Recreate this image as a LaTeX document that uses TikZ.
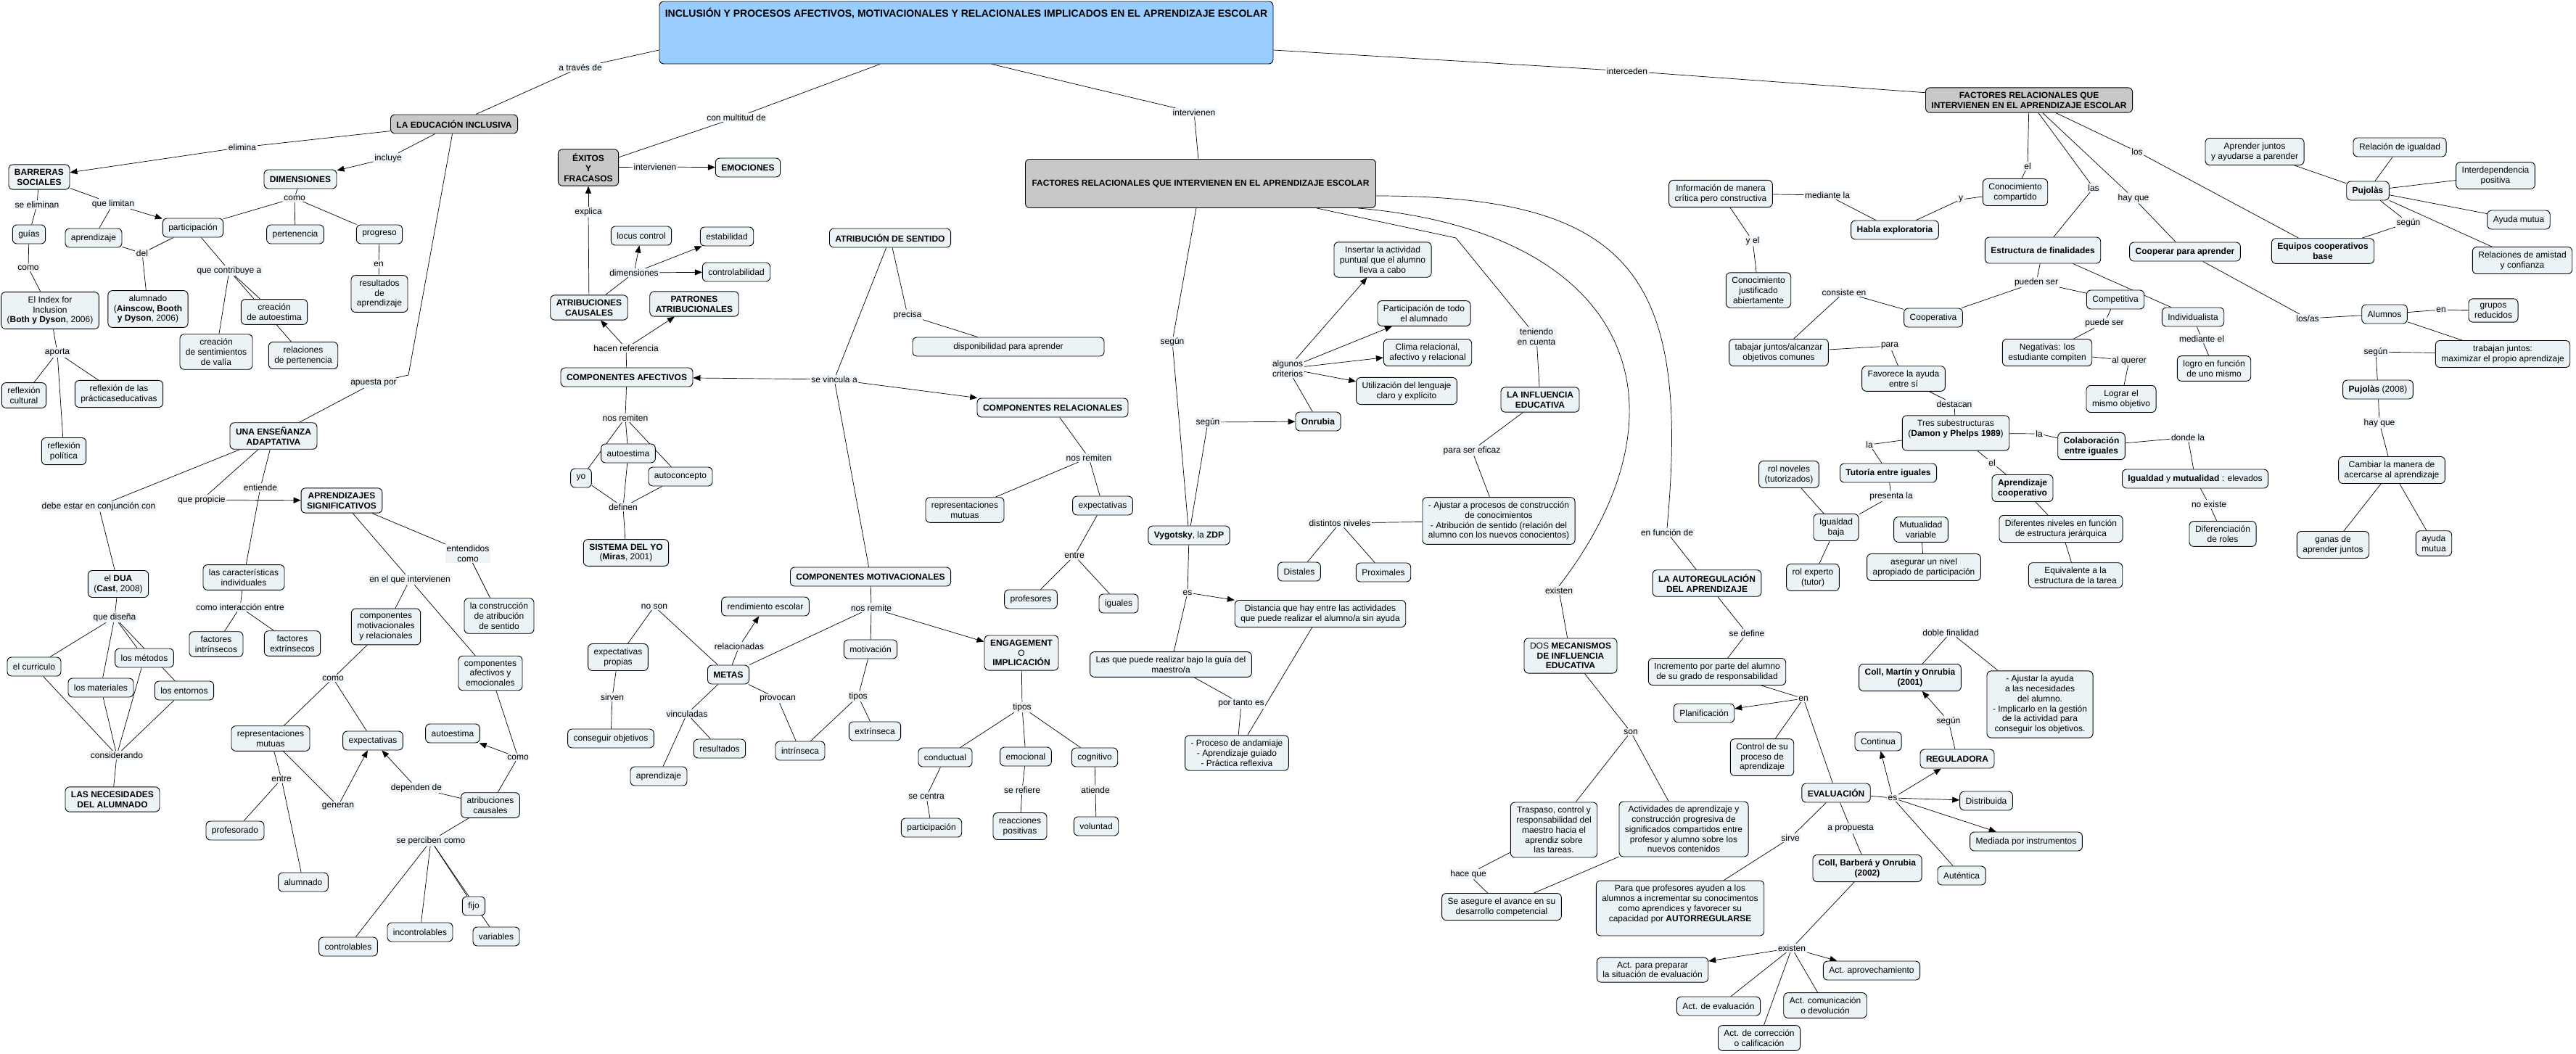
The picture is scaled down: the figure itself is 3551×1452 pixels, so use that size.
\documentclass[tikz,border=0pt]{standalone}
\usepackage{fontspec}
\setmainfont{Liberation Sans}
\usetikzlibrary{arrows.meta,backgrounds}
\definecolor{nodefill}{RGB}{236,243,246}
\definecolor{labfill}{RGB}{238,244,247}
\definecolor{grayfill}{RGB}{200,200,200}
\definecolor{mainfill}{RGB}{153,204,255}
\begin{document}
\begin{tikzpicture}[x=1pt,y=-1pt,font=\fontsize{12}{13.8}\selectfont,
 cn/.style={draw, rounded corners=6pt, fill=nodefill, align=center, inner xsep=8pt, inner ysep=6pt, minimum height=26pt, line width=0.9pt},
 gn/.style={cn, fill=grayfill},
 lb/.style={fill=labfill, inner sep=1.5pt, align=center},
 ed/.style={line width=0.7pt},
 ar/.style={ed, -{Triangle[length=10pt,width=8pt]}}]
\useasboundingbox (0,0) rectangle (3551,1452);
% ---------- main
\node[cn, minimum width=846pt, minimum height=86pt, fill=mainfill] (main) at (1332,45) {};
\node[font=\fontsize{14}{16}\selectfont\bfseries] (maintxt) at (1332,18) {INCLUSIÓN Y PROCESOS AFECTIVOS, MOTIVACIONALES Y RELACIONALES IMPLICADOS EN EL APRENDIZAJE ESCOLAR};
% ---------- left cluster
\node[gn] (educ) at (626,171) {\textbf{LA EDUCACIÓN INCLUSIVA}};
\node[cn] (barreras) at (54,244) {\textbf{BARRERAS}\\\textbf{SOCIALES}};
\node[cn] (dimensiones) at (414,247) {\textbf{DIMENSIONES}};
\node[cn] (particip) at (266,314) {participación};
\node[cn] (guias) at (40,323) {guías};
\node[cn] (aprend1) at (129,328) {aprendizaje};
\node[cn] (pertenencia) at (407,323) {pertenencia};
\node[cn] (progreso) at (523,323) {progreso};
\node[cn] (resultados1) at (523,405) {resultados\\de\\aprendizaje};
\node[cn] (index) at (69,428) {El Index for\\Inclusion\\(\textbf{Both y Dyson}, 2006)};
\node[cn] (alumnado1) at (204,426) {alumnado\\(\textbf{Ainscow, Booth}\\\textbf{y Dyson}, 2006)};
\node[cn] (creaauto) at (378,430) {creación\\de autoestima};
\node[cn] (creavalia) at (298,485) {creación\\de sentimientos\\de valía};
\node[cn] (relperten) at (418,490) {relaciones\\de pertenencia};
\node[cn] (reflcult) at (33,545) {reflexión\\cultural};
\node[cn] (reflprac) at (164,543) {reflexión de las\\prácticaseducativas};
\node[cn] (reflpol) at (88,622) {reflexión\\política};
\node[cn] (ensenanza) at (377,601) {\textbf{UNA ENSEÑANZA}\\\textbf{ADAPTATIVA}};
\node[cn] (aprsig) at (471,690) {\textbf{APRENDIZAJES}\\\textbf{SIGNIFICATIVOS}};
\node[cn] (dua) at (163,805) {el \textbf{DUA}\\(\textbf{Cast}, 2008)};
\node[cn] (caract) at (336,796) {las características\\individuales};
\node[cn] (construc) at (688,849) {la construcción\\de atribución\\de sentido};
\node[cn] (compmotrel) at (532,864) {componentes\\motivacionales\\y relacionales};
\node[cn] (factint) at (298,888) {factores\\intrínsecos};
\node[cn] (factext) at (403,887) {factores\\extrínsecos};
\node[cn] (metodos) at (199,907) {los métodos};
\node[cn] (curriculo) at (47,919) {el curriculo};
\node[cn] (materiales) at (139,948) {los materiales};
\node[cn] (entornos) at (254,952) {los entornos};
\node[cn] (compafem) at (676,928) {componentes\\afectivos y\\emocionales};
\node[cn] (necesidades) at (155,1102) {\textbf{LAS NECESIDADES}\\\textbf{DEL ALUMNADO}};
\node[cn] (repmut1) at (373,1018) {representaciones\\mutuas};
\node[cn] (expect1) at (514,1021) {expectativas};
\node[cn] (autoest2) at (624,1011) {autoestima};
\node[cn] (atrcaus) at (676,1110) {atribuciones\\causales};
\node[cn] (profesorado) at (324,1145) {profesorado};
\node[cn] (alumnado2) at (418,1216) {alumnado};
\node[cn] (fijo) at (653,1249) {fijo};
\node[cn] (incontrol) at (579,1285) {incontrolables};
\node[cn] (variables) at (684,1291) {variables};
\node[cn] (controlables) at (480,1305) {controlables};
% ---------- middle-left
\node[gn] (exitos) at (811,231) {\textbf{ÉXITOS}\\\textbf{Y}\\\textbf{FRACASOS}};
\node[cn] (emociones) at (1031,231) {\textbf{EMOCIONES}};
\node[cn] (locus) at (884,325) {locus control};
\node[cn] (estabilidad) at (1002,326) {estabilidad};
\node[cn] (controlab) at (1015,375) {controlabilidad};
\node[cn] (atribcaus) at (812,424) {\textbf{ATRIBUCIONES}\\\textbf{CAUSALES}};
\node[cn] (patrones) at (957,419) {\textbf{PATRONES}\\\textbf{ATRIBUCIONALES}};
\node[cn] (compafec) at (864,520) {\textbf{COMPONENTES AFECTIVOS}};
\node[cn] (autoest1) at (866,625) {autoestima};
\node[cn] (yo) at (801,659) {yo};
\node[cn] (autoconc) at (938,657) {autoconcepto};
\node[cn] (sistyo) at (863,762) {\textbf{SISTEMA DEL YO}\\(\textbf{Miras}, 2001)};
\node[cn] (expprop) at (852,906) {expectativas\\propias};
\node[cn] (consobj) at (842,1018) {conseguir objetivos};
\node[cn] (aprend2) at (908,1070) {aprendizaje};
\node[cn] (metas) at (1004,930) {\textbf{METAS}};
\node[cn] (rendesc) at (1055,836) {rendimiento escolar};
\node[cn] (resultados2) at (992,1032) {resultados};
\node[cn] (intrins) at (1103,1035) {intrínseca};
\node[cn] (extrins) at (1206,1008) {extrínseca};
\node[cn] (motivacion) at (1200,895) {motivación};
\node[cn] (compmot) at (1200,795) {\textbf{COMPONENTES MOTIVACIONALES}};
\node[cn] (atrsent) at (1227,328) {\textbf{ATRIBUCIÓN DE SENTIDO}};
\node[cn, minimum width=264pt] (dispon) at (1390,478) {disponibilidad para aprender};
\node[cn] (comprel) at (1451,562) {\textbf{COMPONENTES RELACIONALES}};
\node[cn] (repmut2) at (1330,703) {representaciones\\mutuas};
\node[cn] (expect2) at (1520,697) {expectativas};
\node[cn] (profesores) at (1421,826) {profesores};
\node[cn] (iguales) at (1542,832) {iguales};
\node[cn] (engage) at (1408,900) {\textbf{ENGAGEMENT}\\O\\\textbf{IMPLICACIÓN}};
\node[cn] (conductual) at (1303,1044) {conductual};
\node[cn] (emocional) at (1414,1043) {emocional};
\node[cn] (cognitivo) at (1509,1044) {cognitivo};
\node[cn] (particip2) at (1284,1141) {participación};
\node[cn] (reacciones) at (1406,1139) {reacciones\\positivas};
\node[cn] (voluntad) at (1511,1139) {voluntad};
% ---------- middle
\node[gn, minimum width=483pt, minimum height=67pt] (factbig) at (1655,253) {\textbf{FACTORES RELACIONALES QUE INTERVIENEN EN EL APRENDIZAJE ESCOLAR}};
\node[cn] (vygotsky) at (1639,738) {\textbf{Vygotsky}, la \textbf{ZDP}};
\node[cn] (lasque) at (1614,916) {Las que puede realizar bajo la guía del\\maestro/a};
\node[cn] (distancia) at (1820,846) {Distancia que hay entre las actividades\\que puede realizar el alumno/a sin ayuda};
\node[cn] (andamiaje) at (1705,1038) {- Proceso de andamiaje\\- Aprendizaje guiado\\- Práctica reflexiva};
\node[cn] (insertar) at (1906,358) {Insertar la actividad\\puntual que el alumno\\lleva a cabo};
\node[cn] (partodo) at (1963,432) {Participación de todo\\el alumnado};
\node[cn] (clima) at (1968,486) {Clima relacional,\\afectivo y relacional};
\node[cn] (utiliz) at (1939,539) {Utilización del lenguaje\\claro y explícito};
\node[cn] (onrubia) at (1817,581) {\textbf{Onrubia}};
\node[cn] (influencia) at (2123,551) {\textbf{LA INFLUENCIA}\\\textbf{EDUCATIVA}};
\node[cn] (ajustar) at (2066,718) {- Ajustar a procesos de construcción\\de conocimientos\\- Atribución de sentido (relación del\\alumno con los nuevos conocientos)};
\node[cn] (distales) at (1791,788) {Distales};
\node[cn] (proximales) at (1907,789) {Proximales};
\node[cn] (autoreg) at (2353,804) {\textbf{LA AUTOREGULACIÓN}\\\textbf{DEL APRENDIZAJE}};
\node[cn] (mecanismos) at (2165,904) {DOS \textbf{MECANISMOS}\\\textbf{DE INFLUENCIA}\\\textbf{EDUCATIVA}};
\node[cn] (incremento) at (2367,926) {Incremento por parte del alumno\\de su grado de responsabilidad};
\node[cn] (planif) at (2349,983) {Planificación};
\node[cn] (control) at (2429,1044) {Control de su\\proceso de\\aprendizaje};
\node[cn] (evaluacion) at (2531,1093) {\textbf{EVALUACIÓN}};
\node[cn] (continua) at (2589,1022) {Continua};
\node[cn] (traspaso) at (2142,1144) {Traspaso, control y\\responsabilidad del\\maestro hacia el\\aprendiz sobre\\las tareas.};
\node[cn] (activ) at (2321,1143) {Actividades de aprendizaje y\\construcción progresiva de\\significados compartidos entre\\profesor y alumno sobre los\\nuevos contenidos};
\node[cn] (asegure) at (2070,1250) {Se asegure el avance en su\\desarrollo competencial};
\node[cn, minimum width=231pt] (paraque) at (2316,1252) {Para que profesores ayuden a los\\alumnos a incrementar su conocimentos\\como aprendices y favorecer su\\capacidad por \textbf{AUTORREGULARSE}\\\mbox{}};
\node[cn] (collbarb) at (2574,1197) {\textbf{Coll, Barberá y Onrubia}\\\textbf{(2002)}};
\node[cn] (actprep) at (2278,1337) {Act. para preparar\\la situación de evaluación};
\node[cn] (actaprov) at (2580,1338) {Act. aprovechamiento};
\node[cn] (acteval) at (2369,1387) {Act. de evaluación};
\node[cn] (actcom) at (2516,1386) {Act. comunicación\\o devolución};
\node[cn] (actcorr) at (2425,1431) {Act. de corrección\\o calificación};
\node[cn] (reguladora) at (2698,1046) {\textbf{REGULADORA}};
\node[cn] (distribuida) at (2738,1104) {Distribuida};
\node[cn] (mediada) at (2793,1160) {Mediada por instrumentos};
\node[cn] (autentica) at (2704,1207) {Auténtica};
\node[cn] (collmartin) at (2633,934) {\textbf{Coll, Martín y Onrubia}\\\textbf{(2001)}};
\node[cn] (ajustayuda) at (2812,971) {- Ajustar la ayuda\\a las necesidades\\del alumno.\\- Implicarlo en la gestión\\de la actividad para\\conseguir los objetivos.};
% ---------- right cluster
\node[gn] (factright) at (2797,138) {\textbf{FACTORES RELACIONALES QUE}\\\textbf{INTERVIENEN EN EL APRENDIZAJE ESCOLAR}};
\node[cn] (info) at (2372,267) {Información de manera\\crítica pero constructiva};
\node[cn] (habla) at (2612,317) {\textbf{Habla exploratoria}};
\node[cn] (conjust) at (2424,400) {Conocimiento\\justificado\\abiertamente};
\node[cn] (concomp) at (2778,265) {Conocimiento\\compartido};
\node[cn, minimum height=36pt] (estructura) at (2816,345) {\textbf{Estructura de finalidades}};
\node[cn] (cooperar) at (3012,347) {\textbf{Cooperar para aprender}};
\node[cn] (equipos) at (3202,346) {\textbf{Equipos cooperativos}\\\textbf{base}};
\node[cn] (aprjuntos) at (3108,209) {Aprender juntos\\y ayudarse a parender};
\node[cn] (relig) at (3308,203) {Relación de igualdad};
\node[cn] (pujolas) at (3264,263) {\textbf{Pujolàs}};
\node[cn] (interdep) at (3440,242) {Interdependencia\\positiva};
\node[cn] (ayudamutua1) at (3472,303) {Ayuda mutua};
\node[cn] (amistad) at (3477,359) {Relaciones de amistad\\y confianza};
\node[cn] (cooperativa) at (2665,438) {Cooperativa};
\node[cn] (competitiva) at (2916,413) {Competitiva};
\node[cn] (individualista) at (3023,437) {Individualista};
\node[cn] (negativas) at (2822,486) {Negativas: los\\estudiante compiten};
\node[cn] (logro) at (3052,508) {logro en función\\de uno mismo};
\node[cn] (lograr) at (2924,550) {Lograr el\\mismo objetivo};
\node[cn] (tabajar) at (2452,486) {tabajar juntos/alcanzar\\objetivos comunes};
\node[cn] (favorece) at (2624,522) {Favorece la ayuda\\entre sí};
\node[cn, minimum width=146pt] (tres) at (2696,597) {Tres subestructuras\\(\textbf{Damon y Phelps 1989})\\\mbox{}};
\node[cn] (colab) at (2883,615) {\textbf{Colaboración}\\\textbf{entre iguales}};
\node[cn] (igualdad) at (3026,660) {\textbf{Igualdad} y \textbf{mutualidad} : elevados};
\node[cn] (aprcoop) at (2788,673) {\textbf{Aprendizaje}\\\textbf{cooperativo}};
\node[cn] (difroles) at (3064,736) {Diferenciación\\de roles};
\node[cn] (difniv) at (2841,729) {Diferentes niveles en función\\de estructura jerárquica};
\node[cn] (equival) at (2861,793) {Equivalente a la\\estructura de la tarea};
\node[cn] (tutoria) at (2603,652) {\textbf{Tutoría entre iguales}};
\node[cn] (rolnov) at (2466,654) {rol noveles\\(tutorizados)};
\node[cn] (igbaja) at (2531,727) {Igualdad\\baja};
\node[cn] (mutvar) at (2648,730) {Mutualidad\\variable};
\node[cn] (rolexp) at (2499,796) {rol experto\\(tutor)};
\node[cn] (asegurar) at (2652,782) {asegurar un nivel\\apropiado de participación};
\node[cn] (alumnos) at (3287,433) {Alumnos};
\node[cn] (grupos) at (3437,428) {grupos\\reducidos};
\node[cn] (trabajan) at (3450,488) {trabajan juntos:\\maximizar el propio aprendizaje};
\node[cn] (pujolas08) at (3278,537) {\textbf{Pujolàs} (2008)};
\node[cn] (cambiar) at (3297,648) {Cambiar la manera de\\acercarse al aprendizaje};
\node[cn] (ganas) at (3216,751) {ganas de\\aprender juntos};
\node[cn] (ayudamutua2) at (3355,749) {ayuda\\mutua};
% ---------- labels
\node[lb] (l_atraves) at (800,93) {a través de};
\node[lb] (l_elimina) at (334,203) {elimina};
\node[lb] (l_incluye) at (535,218) {incluye};
\node[lb] (l_seelim) at (51,282) {se eliminan};
\node[lb] (l_quelim) at (156,281) {que limitan};
\node[lb] (l_como1) at (406,273) {como};
\node[lb] (l_del) at (196,349) {del};
\node[lb] (l_como2) at (39,369) {como};
\node[lb] (l_contrib) at (316,373) {que contribuye a};
\node[lb] (l_en1) at (522,364) {en};
\node[lb] (l_aporta) at (79,486) {aporta};
\node[lb] (l_apuesta) at (515,528) {apuesta por};
\node[lb] (l_entiende) at (359,672) {entiende};
\node[lb] (l_propicie) at (278,689) {que propicie};
\node[lb] (l_conjuncion) at (136,698) {debe estar en conjunción con};
\node[lb] (l_entendidos) at (645,763) {entendidos\\como};
\node[lb] (l_intervienen2) at (565,799) {en el que intervienen};
\node[lb] (l_interaccion) at (331,837) {como interacción entre};
\node[lb] (l_disena) at (158,851) {que diseña};
\node[lb] (l_como3) at (459,935) {como};
\node[lb] (l_considerando) at (161,1041) {considerando};
\node[lb] (l_como4) at (714,1044) {como};
\node[lb] (l_entre1) at (388,1074) {entre};
\node[lb] (l_dependen) at (574,1086) {dependen de};
\node[lb] (l_generan) at (466,1111) {generan};
\node[lb] (l_perciben) at (594,1159) {se perciben como};
\node[lb] (l_multitud) at (1015,162) {con multitud de};
\node[lb] (l_intervienen1) at (903,230) {intervienen};
\node[lb] (l_explica) at (811,292) {explica};
\node[lb] (l_dimensiones) at (874,376) {dimensiones};
\node[lb] (l_hacenref) at (863,480) {hacen referencia};
\node[lb] (l_nosremiten1) at (862,576) {nos remiten};
\node[lb] (l_definen) at (859,699) {definen};
\node[lb] (l_noson) at (902,836) {no son};
\node[lb] (l_sirven) at (844,961) {sirven};
\node[lb] (l_relacionadas) at (1019,891) {relacionadas};
\node[lb] (l_vinculadas) at (947,984) {vinculadas};
\node[lb] (l_provocan) at (1072,963) {provocan};
\node[lb] (l_nosremite) at (1201,838) {nos remite};
\node[lb] (l_tipos1) at (1183,960) {tipos};
\node[lb] (l_tipos2) at (1409,975) {tipos};
\node[lb] (l_secentra) at (1277,1098) {se centra};
\node[lb] (l_serefiere) at (1409,1089) {se refiere};
\node[lb] (l_atiende) at (1510,1089) {atiende};
\node[lb] (l_precisa) at (1251,434) {precisa};
\node[lb] (l_vincula) at (1150,523) {se vincula a};
\node[lb] (l_nosremiten2) at (1501,631) {nos remiten};
\node[lb] (l_entre2) at (1481,766) {entre};
\node[lb] (l_intervienen3) at (1646,155) {intervienen};
\node[lb] (l_segun1) at (1616,471) {según};
\node[lb] (l_segun2) at (1665,582) {según};
\node[lb] (l_es1) at (1637,817) {es};
\node[lb] (l_portanto) at (1711,970) {por tanto es};
\node[lb] (l_criterios) at (1775,508) {algunos\\criterios};
\node[lb] (l_teniendo) at (2118,464) {teniendo\\en cuenta};
\node[lb] (l_eficaz) at (2029,621) {para ser eficaz};
\node[lb] (l_niveles) at (1847,721) {distintos niveles};
\node[lb] (l_funcion) at (2298,734) {en función de};
\node[lb] (l_existen1) at (2149,814) {existen};
\node[lb] (l_sedefine) at (2408,873) {se define};
\node[lb] (l_en2) at (2486,963) {en};
\node[lb] (l_son) at (2248,1009) {son};
\node[lb] (l_es2) at (2609,1100) {es};
\node[lb] (l_haceque) at (2024,1205) {hace que};
\node[lb] (l_sirve) at (2468,1155) {sirve};
\node[lb] (l_propuesta) at (2551,1142) {a propuesta};
\node[lb] (l_existen2) at (2470,1307) {existen};
\node[lb] (l_segun3) at (2686,994) {según};
\node[lb] (l_doble) at (2689,872) {doble finalidad};
\node[lb] (l_interceden) at (2243,98) {interceden};
\node[lb] (l_mediante) at (2519,269) {mediante la};
\node[lb] (l_yel) at (2416,332) {y el};
\node[lb] (l_y) at (2703,275) {y};
\node[lb] (l_el1) at (2795,229) {el};
\node[lb] (l_las) at (2886,259) {las};
\node[lb] (l_hayque1) at (2941,273) {hay que};
\node[lb] (l_los) at (2946,209) {los};
\node[lb] (l_segun4) at (3320,307) {según};
\node[lb] (l_puedenser) at (2807,389) {pueden ser};
\node[lb] (l_consiste) at (2542,403) {consiste en};
\node[lb] (l_puedeser) at (2901,445) {puede ser};
\node[lb] (l_mediante2) at (3035,467) {mediante el};
\node[lb] (l_alquerer) at (2935,497) {al querer};
\node[lb] (l_losas) at (3181,439) {los/as};
\node[lb] (l_en3) at (3365,427) {en};
\node[lb] (l_segun5) at (3275,485) {según};
\node[lb] (l_hayque2) at (3280,583) {hay que};
\node[lb] (l_para) at (2605,477) {para};
\node[lb] (l_destacan) at (2694,557) {destacan};
\node[lb] (l_la1) at (2811,598) {la};
\node[lb] (l_la2) at (2577,613) {la};
\node[lb] (l_el2) at (2746,638) {el};
\node[lb] (l_dondela) at (3016,603) {donde la};
\node[lb] (l_noexiste) at (3045,695) {no existe};
\node[lb] (l_presenta) at (2607,684) {presenta la};
\coordinate (w1) at (563,517);
\coordinate (w2) at (2007,328);
% ---------- edges
\begin{pgfonlayer}{background}
\fill[white] (0,0) rectangle (3551,1452);
% main
\draw[ed] ([yshift=-24pt]main.west) -- (l_atraves) -- (educ);
\draw[ed] ([yshift=-24pt]main.east) -- (l_interceden) -- (factright);
\draw[ed] ([xshift=-119pt]main.south) -- (l_multitud) -- (exitos);
\draw[ed] ([xshift=35pt]main.south) -- (l_intervienen3) -- (factbig);
% left
\draw[ed] (educ) -- (l_elimina); \draw[ar] (l_elimina) -- (barreras);
\draw[ed] (educ) -- (l_incluye); \draw[ar] (l_incluye) -- (dimensiones);
\draw[ed] (educ) -- (w1) -- (l_apuesta) -- (ensenanza);
\draw[ed] (barreras) -- (l_seelim) -- (guias) -- (l_como2) -- (index) -- (l_aporta);
\draw[ed] (l_aporta) -- (reflcult); \draw[ed] (l_aporta) -- (reflprac); \draw[ed] (l_aporta) -- (reflpol);
\draw[ed] (barreras) -- (l_quelim); \draw[ar] (l_quelim) -- (particip); \draw[ed] (l_quelim) -- (aprend1);
\draw[ed] (aprend1) -- (l_del); \draw[ed] (particip) -- (l_del); \draw[ed] (l_del) -- (alumnado1);
\draw[ed] (particip) -- (l_contrib);
\draw[ed] (l_contrib) -- (creaauto); \draw[ed] (l_contrib) -- (relperten); \draw[ed] (l_contrib) -- (creavalia);
\draw[ed] (dimensiones) -- (l_como1);
\draw[ed] (l_como1) -- (particip); \draw[ed] (l_como1) -- (pertenencia); \draw[ed] (l_como1) -- (progreso);
\draw[ed] (progreso) -- (l_en1) -- (resultados1);
\draw[ed] (ensenanza) -- (l_conjuncion) -- (dua);
\draw[ed] (ensenanza) -- (l_propicie); \draw[ar] (l_propicie) -- (aprsig);
\draw[ed] (ensenanza) -- (l_entiende) -- (caract) -- (l_interaccion);
\draw[ed] (l_interaccion) -- (factint); \draw[ed] (l_interaccion) -- (factext);
\draw[ed] (dua) -- (l_disena);
\draw[ed] (l_disena) -- (curriculo); \draw[ed] (l_disena) -- (materiales);
\draw[ed] (l_disena) -- (metodos); \draw[ed] (l_disena) -- (entornos);
\draw[ed] (curriculo) -- (l_considerando); \draw[ed] (materiales) -- (l_considerando);
\draw[ed] (metodos) -- (l_considerando); \draw[ed] (entornos) -- (l_considerando);
\draw[ed] (l_considerando) -- (necesidades);
\draw[ed] (aprsig) -- (l_entendidos) -- (construc);
\draw[ed] (aprsig) -- (l_intervienen2);
\draw[ed] (l_intervienen2) -- (compmotrel); \draw[ed] (l_intervienen2) -- (compafem);
\draw[ed] (compmotrel) -- (l_como3);
\draw[ed] (l_como3) -- (repmut1); \draw[ed] (l_como3) -- (expect1);
\draw[ed] (compafem) -- (l_como4); \draw[ar] (l_como4) -- (autoest2); \draw[ed] (l_como4) -- (atrcaus);
\draw[ed] (repmut1) -- (l_entre1);
\draw[ed] (l_entre1) -- (profesorado); \draw[ed] (l_entre1) -- (alumnado2);
\draw[ed] (repmut1) -- (l_generan); \draw[ar] (l_generan) -- (expect1);
\draw[ed] (atrcaus) -- (l_dependen); \draw[ar] (l_dependen) -- (expect1);
\draw[ed] (atrcaus) -- (l_perciben);
\draw[ed] (l_perciben) -- (controlables); \draw[ed] (l_perciben) -- (incontrol);
\draw[ed] (l_perciben) -- (fijo); \draw[ed] (l_perciben) -- (variables);
% middle-left
\draw[ed] (exitos) -- (l_intervienen1); \draw[ar] (l_intervienen1) -- (emociones);
\draw[ed] (atribcaus) -- (l_explica); \draw[ar] (l_explica) -- (exitos);
\draw[ed] (atribcaus) -- (l_dimensiones);
\draw[ar] (l_dimensiones) -- (locus); \draw[ar] (l_dimensiones) -- (estabilidad); \draw[ar] (l_dimensiones) -- (controlab);
\draw[ed] (compafec) -- (l_hacenref); \draw[ar] (l_hacenref) -- (atribcaus); \draw[ar] (l_hacenref) -- (patrones);
\draw[ed] (compafec) -- (l_nosremiten1);
\draw[ed] (l_nosremiten1) -- (autoest1); \draw[ed] (l_nosremiten1) -- (yo); \draw[ed] (l_nosremiten1) -- (autoconc);
\draw[ed] (yo) -- (l_definen); \draw[ed] (autoest1) -- (l_definen); \draw[ed] (autoconc) -- (l_definen);
\draw[ed] (l_definen) -- (sistyo);
\draw[ed] (expprop) -- (l_noson) -- (metas);
\draw[ed] (expprop) -- (l_sirven) -- (consobj);
\draw[ed] (metas) -- (l_relacionadas); \draw[ar] (l_relacionadas) -- (rendesc);
\draw[ed] (metas) -- (l_vinculadas);
\draw[ed] (l_vinculadas) -- (aprend2); \draw[ed] (l_vinculadas) -- (resultados2);
\draw[ed] (metas) -- (l_provocan) -- (intrins);
\draw[ed] (compmot) -- (l_nosremite);
\draw[ed] (l_nosremite) -- (metas); \draw[ed] (l_nosremite) -- (motivacion); \draw[ar] (l_nosremite) -- (engage);
\draw[ed] (motivacion) -- (l_tipos1);
\draw[ed] (l_tipos1) -- (intrins); \draw[ed] (l_tipos1) -- (extrins);
\draw[ed] (engage) -- (l_tipos2);
\draw[ed] (l_tipos2) -- (conductual); \draw[ed] (l_tipos2) -- (emocional); \draw[ed] (l_tipos2) -- (cognitivo);
\draw[ed] (conductual) -- (l_secentra) -- (particip2);
\draw[ed] (emocional) -- (l_serefiere) -- (reacciones);
\draw[ed] (cognitivo) -- (l_atiende) -- (voluntad);
\draw[ed] (atrsent) -- (l_precisa) -- (dispon);
\draw[ed] (atrsent) -- (l_vincula);
\draw[ar] (l_vincula) -- (compafec); \draw[ar] (l_vincula) -- (comprel); \draw[ed] (l_vincula) -- (compmot);
\draw[ed] (comprel) -- (l_nosremiten2);
\draw[ed] (l_nosremiten2) -- (repmut2); \draw[ed] (l_nosremiten2) -- (expect2);
\draw[ed] (expect2) -- (l_entre2);
\draw[ed] (l_entre2) -- (profesores); \draw[ed] (l_entre2) -- (iguales);
% middle
\draw[ed] (factbig) -- (l_segun1) -- (vygotsky);
\draw[ed] (vygotsky) -- (l_segun2); \draw[ar] (l_segun2) -- (onrubia);
\draw[ed] (onrubia) -- (l_criterios);
\draw[ar] (l_criterios) -- (insertar); \draw[ar] (l_criterios) -- (partodo);
\draw[ar] (l_criterios) -- (clima); \draw[ar] (l_criterios) -- (utiliz);
\draw[ed] (vygotsky) -- (l_es1); \draw[ar] (l_es1) -- (distancia); \draw[ed] (l_es1) -- (lasque);
\draw[ed] (lasque) -- (l_portanto) -- (andamiaje);
\draw[ed] (distancia) -- (andamiaje);
\draw[ed] ([xshift=160pt]factbig.south) -- (w2) -- (l_teniendo) -- (influencia);
\draw[ed] (influencia) -- (l_eficaz) -- (ajustar) -- (l_niveles);
\draw[ed] (l_niveles) -- (distales); \draw[ed] (l_niveles) -- (proximales);
\draw[ed] ([xshift=217pt]factbig.south) .. controls (2250,320) and (2340,560) .. (l_existen1.north);
\draw[ed] (l_existen1) -- (mecanismos);
\draw[ed] ([yshift=-17pt]factbig.east) .. controls (2250,270) and (2330,380) .. (l_funcion.north);
\draw[ed] (l_funcion) -- (autoreg);
\draw[ed] (mecanismos) -- (l_son);
\draw[ed] (l_son) -- (traspaso); \draw[ed] (l_son) -- (activ);
\draw[ed] (traspaso) -- (l_haceque) -- (asegure);
\draw[ed] (activ) -- (asegure);
\draw[ed] (autoreg) -- (l_sedefine) -- (incremento) -- (l_en2);
\draw[ar] (l_en2) -- (planif); \draw[ed] (l_en2) -- (control); \draw[ed] (l_en2) -- (evaluacion);
\draw[ed] (evaluacion) -- (l_es2);
\draw[ar] (l_es2) -- (continua); \draw[ar] (l_es2) -- (reguladora); \draw[ar] (l_es2) -- (distribuida);
\draw[ar] (l_es2) -- (mediada); \draw[ed] (l_es2) -- (autentica);
\draw[ed] (reguladora) -- (l_segun3); \draw[ar] (l_segun3) -- (collmartin);
\draw[ed] (collmartin) -- (l_doble) -- (ajustayuda);
\draw[ed] (evaluacion) -- (l_sirve) -- (paraque);
\draw[ed] (evaluacion) -- (l_propuesta) -- (collbarb) -- (l_existen2);
\draw[ar] (l_existen2) -- (actprep); \draw[ed] (l_existen2) -- (acteval); \draw[ed] (l_existen2) -- (actcorr);
\draw[ed] (l_existen2) -- (actcom); \draw[ar] (l_existen2) -- (actaprov);
% right
\draw[ed] (info) -- (l_mediante) -- (habla);
\draw[ed] (info) -- (l_yel) -- (conjust);
\draw[ed] (factright) -- (l_el1) -- (concomp) -- (l_y) -- (habla);
\draw[ed] (factright) -- (l_las) -- (estructura);
\draw[ed] (factright) -- (l_hayque1) -- (cooperar);
\draw[ed] (factright) -- (l_los) -- (equipos);
\draw[ed] (equipos) -- (l_segun4) -- (pujolas);
\draw[ed] (pujolas) -- (aprjuntos); \draw[ed] (pujolas) -- (relig); \draw[ed] (pujolas) -- (interdep);
\draw[ed] (pujolas) -- (ayudamutua1); \draw[ed] (pujolas) -- (amistad);
\draw[ed] (estructura) -- (l_puedenser);
\draw[ed] (l_puedenser) -- (cooperativa); \draw[ed] (l_puedenser) -- (competitiva);
\draw[ed] (estructura) -- (individualista);
\draw[ed] (competitiva) -- (l_puedeser) -- (negativas) -- (l_alquerer) -- (lograr);
\draw[ed] (individualista) -- (l_mediante2) -- (logro);
\draw[ed] (cooperativa) -- (l_consiste) -- (tabajar) -- (l_para) -- (favorece) -- (l_destacan) -- (tres);
\draw[ed] (tres) -- (l_la1) -- (colab);
\draw[ed] (tres) -- (l_la2) -- (tutoria);
\draw[ed] (tres) -- (l_el2) -- (aprcoop);
\draw[ed] (colab) -- (l_dondela) -- (igualdad) -- (l_noexiste) -- (difroles);
\draw[ed] (aprcoop) -- (difniv) -- (equival);
\draw[ed] (tutoria) -- (l_presenta) -- (igbaja);
\draw[ed] (rolnov) -- (igbaja) -- (rolexp);
\draw[ed] (mutvar) -- (asegurar);
\draw[ed] (cooperar) -- (l_losas) -- (alumnos) -- (l_en3) -- (grupos);
\draw[ed] (alumnos) -- (trabajan) -- (l_segun5) -- (pujolas08) -- (l_hayque2) -- (cambiar);
\draw[ed] (cambiar) -- (ganas); \draw[ed] (cambiar) -- (ayudamutua2);
\end{pgfonlayer}
\end{tikzpicture}
\end{document}
